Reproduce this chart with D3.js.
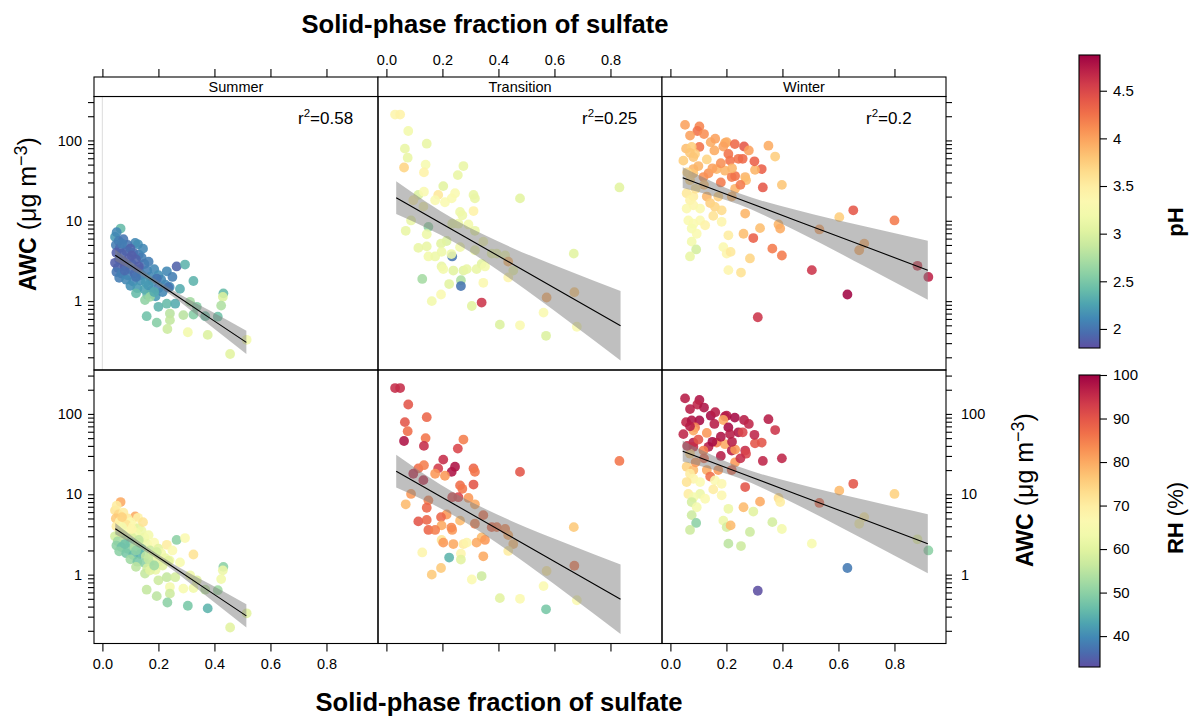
<!DOCTYPE html>
<html><head><meta charset="utf-8">
<script src="https://cdn.jsdelivr.net/npm/d3@7"></script>
<style>
body{margin:0;background:#fff;}
text{font-family:"Liberation Sans",Arial,Helvetica,sans-serif;fill:#000;}
</style></head><body>
<svg id="chart" width="1192" height="717"></svg>
<script>
// ---- labels and ticks ----
const seasons = ["Summer", "Transition", "Winter"];
const r2Labels = ["0.58", "0.25", "0.2"];
const fracTicks = [0, 0.2, 0.4, 0.6, 0.8];
const awcLabelTicks = [1, 10, 100];
const phTicks = [2, 2.5, 3, 3.5, 4, 4.5];
const rhTicks = [40, 50, 60, 70, 80, 90, 100];

// ---- Summer observations ----
const summerFrac = [0.065,0.045,0.051,0.058,0.075,0.117,0.127,0.09,0.048,0.062,0.1,0.085,0.05,0.07,0.11,0.13,0.14,0.12,0.095,0.06,0.045,0.075,0.105,0.15,0.165,0.055,0.08,0.1,0.13,0.16,0.185,0.05,0.068,0.09,0.115,0.14,0.17,0.2,0.06,0.085,0.11,0.135,0.155,0.18,0.21,0.225,0.1,0.125,0.15,0.175,0.2,0.24,0.12,0.16,0.19,0.215,0.23,0.265,0.295,0.325,0.277,0.235,0.194,0.164,0.152,0.17,0.2,0.23,0.26,0.313,0.337,0.432,0.43,0.424,0.412,0.367,0.325,0.289,0.241,0.158,0.241,0.194,0.232,0.305,0.376,0.456,0.515,0.13,0.07,0.145,0.105,0.08,0.12,0.25,0.185];
const summerAwc = [8.0,6.3,7.2,5.6,5.9,5.3,5.1,5.0,5.0,4.6,4.5,4.2,4.0,3.9,4.0,3.8,3.5,3.3,3.4,3.3,3.0,3.1,2.9,2.9,3.1,2.6,2.7,2.5,2.5,2.4,2.5,2.3,2.2,2.1,2.2,2.1,2.0,2.1,1.95,1.85,1.75,1.8,1.7,1.75,1.85,1.6,1.55,1.45,1.4,1.35,1.45,1.5,1.25,1.2,1.15,1.3,2.35,2.7,2.85,1.78,1.42,1.48,1.9,1.58,1.03,1.13,0.85,0.93,0.93,0.98,0.85,1.25,1.13,0.88,0.64,0.65,0.68,0.67,0.70,0.65,0.58,0.54,0.45,0.41,0.38,0.22,0.33,2.7,5.2,4.5,3.7,2.4,2.0,2.0,1.3];
const summerPh = [2.4,2.2,2.1,2.05,2.0,2.1,2.15,2.0,2.05,1.95,1.9,1.95,1.88,1.9,1.95,2.0,2.05,1.9,1.88,1.9,1.88,1.88,1.92,2.0,2.05,1.9,1.88,1.95,2.0,2.05,2.1,2.0,2.05,2.05,1.95,2.05,2.1,2.15,2.05,2.1,2.1,2.15,2.2,2.15,2.1,2.1,2.15,2.2,2.25,2.1,2.05,2.1,2.4,2.35,2.2,2.1,2.1,1.9,2.35,2.35,2.3,2.0,2.0,2.2,2.6,2.65,2.35,2.4,2.3,2.7,2.55,2.4,3.0,2.75,2.45,2.45,2.55,2.8,2.8,2.45,2.85,2.55,2.9,3.2,3.0,3.05,3.2,1.88,2.05,2.1,1.88,1.95,2.0,2.05,2.3];
const summerRh = [80,72,70,74,70,80,69,71,76,68,66,72,70,64,67,60,62,63,65,62,58,60,59,62,64,52,55,50,58,62,66,50,47,49,54,52,57,60,50,48,46,45,55,62,64,62,52,48,50,55,60,63,55,58,62,60,70,50,66,72,65,60,58,56,56,60,57,56,58,63,60,50,62,63,52,55,63,65,64,56,57,55,50,48,45,60,60,56,75,72,68,47,50,66,52];

// ---- Transition observations ----
const transitionFrac = [0.235,0.031,0.049,0.078,0.066,0.144,0.076,0.063,0.140,0.134,0.275,0.255,0.203,0.114,0.134,0.185,0.245,0.233,0.311,0.316,0.477,0.832,0.096,0.174,0.209,0.132,0.263,0.271,0.311,0.088,0.150,0.069,0.144,0.235,0.257,0.293,0.316,0.346,0.215,0.114,0.144,0.195,0.263,0.197,0.150,0.174,0.316,0.376,0.394,0.424,0.435,0.453,0.435,0.340,0.322,0.352,0.197,0.203,0.239,0.275,0.287,0.128,0.224,0.266,0.266,0.346,0.195,0.162,0.340,0.305,0.561,0.572,0.669,0.671,0.680,0.477,0.405,0.570,0.232];
const transitionAwc = [3.6,210,210,131,79,91,61,46,50,40,48,37,27,21,23,21,22,19,21,19,19,26,18,18,17,15,12.9,11.7,13.2,10.1,8.4,7.5,6.8,9.2,9.2,9.0,7.5,5.5,5.6,4.6,4.8,5.2,4.7,4.1,3.6,3.6,4.3,3.9,3.9,3.7,3.1,2.4,1.97,2.9,2.5,2.7,2.7,2.5,2.4,2.4,2.5,1.89,1.63,1.82,1.54,1.69,1.21,1.0,0.96,0.87,0.72,1.11,3.9,1.29,0.48,0.50,0.51,0.37,3.85];
const transitionPh = [2.0,3.4,3.45,3.2,3.1,3.1,3.1,3.7,3.25,3.45,3.1,3.1,3.05,3.0,3.3,3.55,3.3,3.3,3.1,3.1,3.05,3.05,3.45,3.3,3.3,3.35,3.15,3.15,3.45,3.1,2.6,3.1,3.15,3.1,3.15,3.2,3.1,3.25,3.0,3.1,3.1,3.05,3.2,3.15,3.2,3.15,3.15,3.1,3.15,3.2,3.9,3.15,3.4,3.05,3.1,3.2,3.1,3.2,3.05,3.05,3.1,2.7,3.05,2.75,2.0,3.35,3.3,3.2,4.6,3.05,3.3,3.95,3.05,3.8,3.3,3.3,3.0,3.0,3.15];
const transitionRh = [82,95,95,90,90,88,87,98,86,95,85,92,95,87,85,93,98,98,88,86,90,86,96,82,82,96,87,86,90,82,85,78,88,92,92,82,80,87,82,90,88,88,78,80,88,85,85,88,86,84,80,78,70,78,80,82,72,82,80,70,68,68,45,68,60,80,76,76,57,66,66,70,76,86,66,66,60,48,84];

// ---- Winter observations ----
const winterFrac = [0.0523,0.1035,0.0963,0.0701,0.144,0.195,0.201,0.189,0.263,0.350,0.1035,0.056,0.076,0.088,0.157,0.207,0.374,0.0463,0.082,0.130,0.243,0.258,0.213,0.326,0.302,0.195,0.165,0.082,0.136,0.118,0.082,0.070,0.219,0.231,0.267,0.270,0.398,0.330,0.231,0.058,0.082,0.070,0.130,0.171,0.219,0.142,0.082,0.106,0.058,0.159,0.183,0.267,0.653,0.603,0.800,0.106,0.064,0.124,0.153,0.183,0.082,0.076,0.094,0.320,0.386,0.392,0.261,0.296,0.532,0.207,0.076,0.092,0.070,0.189,0.201,0.215,0.364,0.398,0.284,0.692,0.674,0.207,0.252,0.505,0.882,0.921,0.632,0.312,0.12,0.16,0.23,0.28,0.07,0.18,0.30,0.10,0.15,0.22,0.06,0.25,0.12,0.18,0.09];
const winterAwc = [156,149,131,115,95,93,95,84,84,86,83,79,83,68,75,68,63,56,62,58,59,59,56,44,43,42,44,44,39,35,39,32,35,36,35,32,28,26,25,22,20,18,20,20,20,16.6,15.6,14.2,14.2,14.9,13.5,12.3,13.5,11.1,10.1,10.1,10.1,8.8,11.5,9.7,9.2,8.0,6.9,8.1,9.0,8.0,6.9,6.1,7.8,6.6,5.5,4.4,3.6,4.7,3.9,4.1,4.5,3.7,3.4,5.2,4.3,2.43,2.27,2.43,2.75,2.0,1.21,0.63,120,105,90,75,70,52,55,48,45,45,40,28,28,30,25];
const winterPh = [4.0,4.15,4.25,4.0,3.95,3.95,3.95,4.0,4.4,3.95,4.25,3.85,3.75,3.75,3.95,4.25,3.75,3.75,3.8,3.7,4.25,4.3,4.25,4.35,3.9,3.9,3.9,3.9,4.1,4.1,3.8,3.7,4.2,4.25,3.9,3.85,3.8,4.4,3.9,3.55,3.5,3.45,3.9,3.75,3.9,3.75,3.4,3.35,3.35,3.7,3.65,3.9,4.4,3.75,4.2,3.35,3.3,3.45,3.6,3.4,3.3,3.25,3.3,3.85,3.9,3.95,3.85,4.35,4.0,3.5,3.2,2.95,3.1,3.35,3.4,3.55,4.2,4.2,3.7,3.95,3.95,3.4,3.6,4.6,4.6,4.7,4.85,4.6,4.1,4.0,4.3,4.0,3.8,4.1,4.35,3.9,4.0,3.9,3.7,4.2,3.85,4.2,3.6];
const winterRh = [97,98,96,97,99,98,97,80,97,97,99,96,98,85,97,99,94,96,80,82,98,92,97,90,90,80,85,97,97,85,95,75,97,82,95,92,96,96,82,75,78,70,80,82,88,87,68,66,72,66,67,90,90,78,75,62,70,66,70,67,64,58,64,80,73,70,78,60,88,62,57,50,57,62,58,78,58,64,57,70,68,55,57,65,62,50,38,33,98,97,99,96,97,98,96,90,99,97,95,95,88,97,82];

// ---- fitted log-linear regression and 95% confidence band ----
const summerFitX = [0.046, 0.15, 0.25, 0.38, 0.514];
const summerFit = [3.73, 2.14, 1.26, 0.628, 0.307];
const summerLo = [3.18, 1.98, 1.15, 0.511, 0.220];
const summerHi = [4.39, 2.32, 1.38, 0.773, 0.429];
const transitionFitX = [0.035, 0.245, 0.45, 0.65, 0.836];
const transitionFit = [19.4, 7.41, 2.90, 1.16, 0.493];
const transitionLo = [12.1, 5.33, 1.82, 0.561, 0.182];
const transitionHi = [31.0, 10.3, 4.60, 2.39, 1.34];
const winterFitX = [0.044, 0.245, 0.45, 0.7, 0.919];
const winterFit = [34.4, 18.7, 10.0, 4.71, 2.43];
const winterLo = [25.6, 15.9, 7.45, 2.64, 1.04];
const winterHi = [46.2, 22.0, 13.6, 8.41, 5.65];

// ---- assemble per-season tables ----
function rows(frac, awc, ph, rh) {
  return frac.map((f, i) => ({ frac: f, awc: awc[i], ph: ph[i], rh: rh[i] }));
}
function band(xs, fit, lo, hi) {
  return xs.map((x, i) => ({ x, fit: fit[i], lo: lo[i], hi: hi[i] }));
}
const panels = [
  { name: seasons[0], r2: r2Labels[0], pts: rows(summerFrac, summerAwc, summerPh, summerRh), fit: band(summerFitX, summerFit, summerLo, summerHi) },
  { name: seasons[1], r2: r2Labels[1], pts: rows(transitionFrac, transitionAwc, transitionPh, transitionRh), fit: band(transitionFitX, transitionFit, transitionLo, transitionHi) },
  { name: seasons[2], r2: r2Labels[2], pts: rows(winterFrac, winterAwc, winterPh, winterRh), fit: band(winterFitX, winterFit, winterLo, winterHi) }
];

// ---- layout ----
const svg = d3.select("#chart");
const left = 94, pw = 284, stripTop = 77, stripH = 19.5;
const rowTop = [96.5, 370], ph = 273.5;

const x = d3.scaleLinear().domain([-0.03, 0.984]).range([0, pw]);
const y = d3.scaleLog().domain([0.139, 352]).range([ph, 0]);

const phDomain = [1.8, 4.875], rhDomain = [32.9, 100];
const phColor = d3.scaleSequential(t => d3.interpolateSpectral(1 - t)).domain(phDomain);
const rhColor = d3.scaleSequential(t => d3.interpolateSpectral(1 - t)).domain(rhDomain);

const defs = svg.append("defs");

const area = d3.area().x(d => x(d.x)).y0(d => y(d.lo)).y1(d => y(d.hi)).curve(d3.curveMonotoneX);
const line = d3.line().x(d => x(d.x)).y(d => y(d.fit));

panels.forEach((p, col) => {
  [0, 1].forEach(row => {
    const gx = left + col * pw, gy = rowTop[row];
    const id = `clip-${col}-${row}`;
    defs.append("clipPath").attr("id", id).append("rect").attr("width", pw).attr("height", ph);
    const g = svg.append("g").attr("transform", `translate(${gx},${gy})`);
    const inner = g.append("g").attr("clip-path", `url(#${id})`);
    if (col === 0 && row === 0) {
      inner.append("line").attr("x1", x(0)).attr("x2", x(0)).attr("y1", 0).attr("y2", ph)
        .attr("stroke", "#e2e2e2").attr("stroke-width", 1.2);
    }
    const color = row === 0 ? phColor : rhColor;
    inner.selectAll("circle").data(p.pts).join("circle")
      .attr("cx", d => x(d.frac)).attr("cy", d => y(d.awc)).attr("r", 4.9)
      .attr("fill", d => color(row === 0 ? d.ph : d.rh)).attr("fill-opacity", 0.88);
    inner.append("path").datum(p.fit).attr("d", area).attr("fill", "#808080").attr("fill-opacity", 0.5);
    inner.append("path").datum(p.fit).attr("d", line).attr("fill", "none").attr("stroke", "#000").attr("stroke-width", 1.1);
    g.append("rect").attr("width", pw).attr("height", ph).attr("fill", "none").attr("stroke", "#000").attr("stroke-width", 1.1);
    if (row === 0) {
      const t = g.append("text").attr("x", 204).attr("y", 27).attr("font-size", 17);
      t.append("tspan").text("r");
      t.append("tspan").text("2").attr("font-size", 11.5).attr("dy", -7);
      t.append("tspan").text("=" + p.r2).attr("dy", 7);
    }
  });
  // strip
  const sx = left + col * pw;
  svg.append("rect").attr("x", sx).attr("y", stripTop).attr("width", pw).attr("height", stripH)
    .attr("fill", "#fff").attr("stroke", "#000").attr("stroke-width", 1.1);
  svg.append("text").attr("x", sx + pw / 2).attr("y", stripTop + 15).attr("text-anchor", "middle")
    .attr("font-size", 14.5).text(p.name);

  // top x axis: ticks for all, labels on the middle column
  const top = svg.append("g").attr("transform", `translate(${sx},${stripTop})`);
  top.call(d3.axisTop(x).tickValues(fracTicks).tickSize(8).tickPadding(4)
    .tickFormat(col === 1 ? d3.format(".1f") : ""));
  // bottom x axis: labels on outer columns
  const bot = svg.append("g").attr("transform", `translate(${sx},${rowTop[1] + ph})`);
  bot.call(d3.axisBottom(x).tickValues(fracTicks).tickSize(8).tickPadding(7)
    .tickFormat(col !== 1 ? d3.format(".1f") : ""));
});

// y axes (log)
const yTickVals = y.ticks();
[0, 1].forEach(row => {
  const gl = svg.append("g").attr("transform", `translate(${left},${rowTop[row]})`);
  gl.call(d3.axisLeft(y).tickValues(yTickVals).tickSize(6).tickPadding(6)
    .tickFormat(d => awcLabelTicks.includes(d) ? d3.format("d")(d) : ""));
  const gr = svg.append("g").attr("transform", `translate(${left + 3 * pw},${rowTop[row]})`);
  gr.call(d3.axisRight(y).tickValues(yTickVals).tickSize(6).tickPadding(9)
    .tickFormat(d => row === 1 && awcLabelTicks.includes(d) ? d3.format("d")(d) : ""));
});
svg.selectAll(".domain").remove();
svg.selectAll(".tick line").attr("stroke", "#000").attr("stroke-width", 1.1);
svg.selectAll(".tick text").attr("font-size", 14.5).attr("fill", "#000")
  .attr("font-family", "'Liberation Sans', Arial, sans-serif");

// axis titles
svg.append("text").attr("x", 485).attr("y", 33).attr("text-anchor", "middle")
  .attr("font-size", 25.6).attr("font-weight", "bold").text("Solid-phase fraction of sulfate");
svg.append("text").attr("x", 499).attr("y", 711).attr("text-anchor", "middle")
  .attr("font-size", 25.6).attr("font-weight", "bold").text("Solid-phase fraction of sulfate");

function awcTitle(cx, cy) {
  const t = svg.append("text").attr("transform", `translate(${cx},${cy}) rotate(-90)`)
    .attr("text-anchor", "middle").attr("font-size", 23);
  t.append("tspan").attr("font-weight", "bold").text("AWC");
  t.append("tspan").attr("font-size", 25).text(" (\u03bcg m");
  t.append("tspan").attr("font-size", 18).attr("dy", -9).text("\u22123");
  t.append("tspan").attr("font-size", 25).attr("dy", 9).text(")");
}
awcTitle(36, 214);
awcTitle(1033, 490);

// colour bars
function colorBar(id, scale, domain, ticks, top, bottom, title) {
  const bx = 1079, bw = 21;
  const grad = defs.append("linearGradient").attr("id", id).attr("x1", 0).attr("x2", 0).attr("y1", 1).attr("y2", 0);
  d3.range(0, 1.0001, 0.05).forEach(t => {
    grad.append("stop").attr("offset", t).attr("stop-color", scale(domain[0] + t * (domain[1] - domain[0])));
  });
  svg.append("rect").attr("x", bx).attr("y", top).attr("width", bw).attr("height", bottom - top)
    .attr("fill", `url(#${id})`).attr("stroke", "#000").attr("stroke-width", 1.1);
  const s = d3.scaleLinear().domain(domain).range([bottom, top]);
  const ax = svg.append("g").attr("transform", `translate(${bx + bw},0)`)
    .call(d3.axisRight(s).tickValues(ticks).tickSize(7).tickPadding(6).tickFormat(d3.format("")));
  ax.select(".domain").remove();
  ax.selectAll(".tick line").attr("stroke", "#000").attr("stroke-width", 1.1);
  ax.selectAll(".tick text").attr("font-size", 15).attr("font-family", "'Liberation Sans', Arial, sans-serif");
  title();
}
colorBar("gradPh", phColor, phDomain, phTicks, 55, 348, () => {
  svg.append("text").attr("transform", "translate(1183,222) rotate(-90)").attr("text-anchor", "middle")
    .attr("font-size", 22).attr("font-weight", "bold").text("pH");
});
colorBar("gradRh", rhColor, rhDomain, rhTicks, 375, 667, () => {
  const t = svg.append("text").attr("transform", "translate(1183,518) rotate(-90)").attr("text-anchor", "middle")
    .attr("font-size", 22);
  t.append("tspan").attr("font-weight", "bold").text("RH");
  t.append("tspan").text(" (%)");
});
</script>
</body></html>
